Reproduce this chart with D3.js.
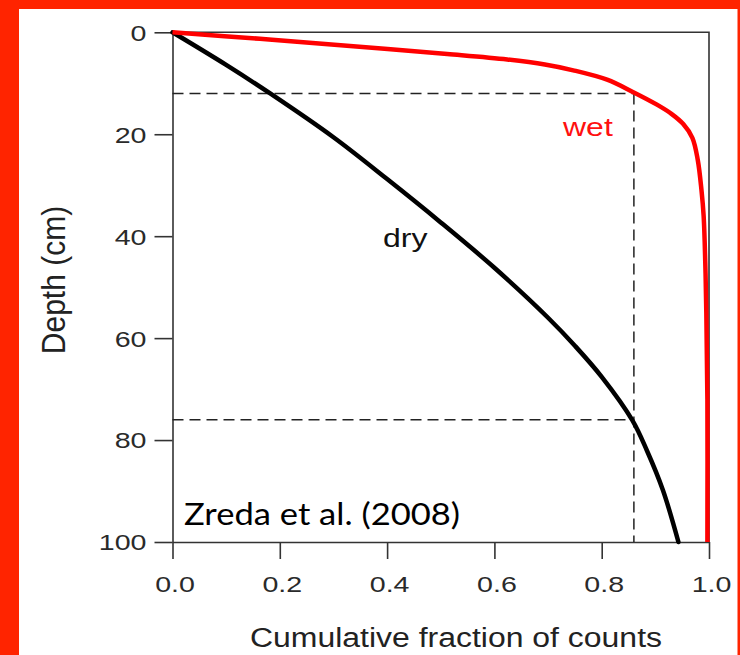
<!DOCTYPE html>
<html>
<head>
<meta charset="utf-8">
<script src="https://cdn.jsdelivr.net/npm/d3@7"></script>
<style>
  html, body { margin: 0; padding: 0; background: #fff; }
  svg { display: block; }
</style>
</head>
<body>
<svg id="chart" width="740" height="655"></svg>
<script>
// ---- data ----
const xTicks = [0, 0.2, 0.4, 0.6, 0.8, 1.0];
const yTicks = [0, 20, 40, 60, 80, 100];

const wetDepth = [0, 1.28, 2.69, 4.26, 5.34, 6.32, 7.46, 9.3, 11.7, 14.2, 16.0, 18.0, 20.7, 25.0, 31.0, 36.0, 45.0, 55.0, 72.0, 100];
const wetFrac  = [0, 0.163, 0.331, 0.512, 0.624, 0.694, 0.747, 0.810, 0.858, 0.903, 0.930, 0.952, 0.969, 0.979, 0.986, 0.990, 0.993, 0.995, 0.997, 0.997];

const dryDepth = [0, 6.4, 12.0, 20.6, 28.8, 37.3, 46.2, 56.0, 61.5, 67.6, 76.1, 82.0, 89.8, 100];
const dryFrac  = [0, 0.1, 0.182, 0.3, 0.4, 0.5, 0.6, 0.7, 0.75, 0.8, 0.857, 0.884, 0.914, 0.943];

const refDepths = [12, 76];
const refFrac = 0.86;

const seriesLabels = ["wet", "dry"];
const xTitle = "Cumulative fraction of counts";
const yTitle = "Depth (cm)";
const citation = "Zreda et al. (2008)";

// ---- drawing ----
const svg = d3.select("#chart");
const W = 740, H = 655;
const RED_FRAME = "#ff2400";
const AX = "#333";
const FONT = "'Liberation Sans', Arial, Helvetica, sans-serif";

svg.append("rect").attr("width", W).attr("height", H).attr("fill", "#fff");
svg.append("rect").attr("x", 0).attr("y", 0).attr("width", W).attr("height", 9).attr("fill", RED_FRAME);
svg.append("rect").attr("x", 0).attr("y", 0).attr("width", 19).attr("height", H).attr("fill", RED_FRAME);
svg.append("rect").attr("x", 737.5).attr("y", 0).attr("width", 2.5).attr("height", H).attr("fill", RED_FRAME);

const x = d3.scaleLinear().domain([0, 1]).range([172.5, 709]);
const y = d3.scaleLinear().domain([0, 100]).range([32.3, 542]);

// frame (top & right)
svg.append("path")
  .attr("d", `M${x(0)},${y(0)}H${x(1)}V${y(100)}`)
  .attr("fill", "none").attr("stroke", AX).attr("stroke-width", 1.6);

// left axis
const gy = svg.append("g")
  .attr("transform", `translate(${x(0)},0)`)
  .call(d3.axisLeft(y).tickValues(yTicks).tickSize(18).tickSizeOuter(0).tickFormat(d3.format("d")));
gy.attr("font-family", FONT).attr("font-size", 22);
gy.select(".domain").attr("stroke", AX).attr("stroke-width", 1.6);
gy.selectAll(".tick line").attr("stroke", AX).attr("stroke-width", 1.6);
gy.selectAll(".tick text")
  .attr("x", 0).attr("dy", "0.36em").attr("text-anchor", "end")
  .attr("fill", "#2a2a2a")
  .attr("transform", "translate(-26,0) scale(1.3,1)");

// bottom axis
const gx = svg.append("g")
  .attr("transform", `translate(0,${y(100)})`)
  .call(d3.axisBottom(x).tickValues(xTicks).tickSize(17).tickSizeOuter(0).tickFormat(d3.format(".1f")));
gx.attr("font-family", FONT).attr("font-size", 22);
gx.select(".domain").attr("stroke", AX).attr("stroke-width", 1.6);
gx.selectAll(".tick line").attr("stroke", AX).attr("stroke-width", 1.6);
gx.selectAll(".tick text")
  .attr("y", 50.5).attr("dy", 0)
  .attr("fill", "#2a2a2a")
  .attr("transform", "translate(2,0) scale(1.3,1)");

// dashed reference lines
const dash = svg.append("g").attr("fill", "none").attr("stroke", "#222")
  .attr("stroke-width", 1.5).attr("stroke-dasharray", "11,6");
refDepths.forEach(d => {
  dash.append("line").attr("x1", x(0)).attr("x2", x(refFrac)).attr("y1", y(d)).attr("y2", y(d));
});
dash.append("line").attr("x1", x(refFrac)).attr("x2", x(refFrac))
  .attr("y1", y(d3.min(refDepths))).attr("y2", y(100));

// curves
const line = d3.line().x(d => x(d[0])).y(d => y(d[1])).curve(d3.curveCatmullRom.alpha(0.5));
const wet = wetFrac.map((f, i) => [f, wetDepth[i]]);
const dry = dryFrac.map((f, i) => [f, dryDepth[i]]);

svg.append("path").datum(dry).attr("d", line)
  .attr("fill", "none").attr("stroke", "#000").attr("stroke-width", 4.5).attr("stroke-linecap", "round");
svg.append("path").datum(wet).attr("d", line)
  .attr("fill", "none").attr("stroke", "#ff0000").attr("stroke-width", 4.5).attr("stroke-linecap", "butt");

// series labels
svg.append("text")
  .attr("transform", "translate(563,136) scale(1.28,1)")
  .attr("font-family", FONT).attr("font-size", 25).attr("fill", "#ff1010")
  .text(seriesLabels[0]);
svg.append("text")
  .attr("transform", "translate(383,247) scale(1.28,1)")
  .attr("font-family", FONT).attr("font-size", 25).attr("fill", "#111")
  .text(seriesLabels[1]);

// axis titles
svg.append("text")
  .attr("x", 250).attr("y", 646.5)
  .attr("font-family", FONT).attr("font-size", 27).attr("fill", "#222")
  .attr("textLength", 412).attr("lengthAdjust", "spacingAndGlyphs")
  .text(xTitle);
svg.append("text")
  .attr("transform", "translate(65,280) rotate(-90) scale(1,1.12)")
  .attr("text-anchor", "middle")
  .attr("font-family", FONT).attr("font-size", 30).attr("fill", "#222")
  .text(yTitle);

// citation
svg.append("text")
  .attr("x", 184).attr("y", 525)
  .attr("font-family", "Lato, 'Open Sans', sans-serif").attr("font-size", 31).attr("fill", "#000")
  .attr("textLength", 276).attr("lengthAdjust", "spacingAndGlyphs")
  .text(citation);
</script>
</body>
</html>
